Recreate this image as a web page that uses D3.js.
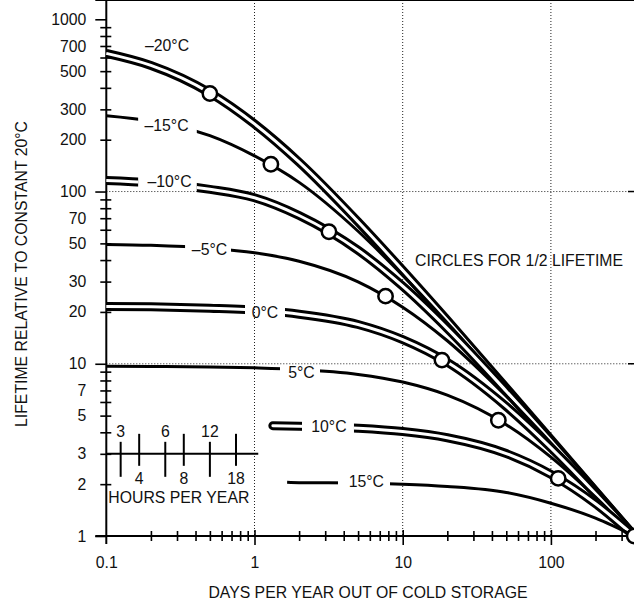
<!DOCTYPE html>
<html>
<head>
<meta charset="utf-8">
<script src="https://cdn.jsdelivr.net/npm/d3@7"></script>
<style>
body { margin: 0; background: #fff; }
svg text { font-family: "Liberation Sans", Arial, Helvetica, sans-serif; font-size: 15.8px; fill: #111; }
</style>
</head>
<body>
<div id="chart"></div>
<script>
// days per year out of cold storage, sampled along the curves
var days = [0.1, 0.2, 0.5, 1, 2, 5, 10, 20, 50, 100, 200, 365];
var days10 = [1.33, 2, 5, 10, 20, 50, 100, 200, 365];
var days15 = [1.66, 2, 5, 10, 20, 50, 100, 200, 365];

// lifetime relative to constant 20°C
var lifeM20 = [634, 540, 374, 247, 148, 66.7, 34.9, 17.9, 7.24, 3.64, 1.82, 1];
var lifeM15 = [275, 256, 211, 161, 113, 58.8, 32.6, 17.3, 7.15, 3.62, 1.82, 1];
var lifeM10 = [116, 112.5, 103, 92, 72.6, 45.6, 28.2, 16.0, 6.93, 3.57, 1.81, 1];
var lifeM5  = [49.3, 48.7, 46.8, 44.1, 39.4, 29.9, 21.3, 13.6, 6.48, 3.47, 1.80, 1];
var lifeP0  = [21.5, 21.4, 21.0, 20.5, 19.4, 16.9, 13.8, 10.2, 5.65, 3.25, 1.76, 1];
var lifeP5  = [9.68, 9.65, 9.59, 9.47, 9.26, 8.67, 7.83, 6.57, 4.43, 2.87, 1.68, 1];
var lifeP10 = [4.37, 4.34, 4.22, 4.04, 3.72, 3.01, 2.28, 1.54, 1];
var lifeP15 = [2.05, 2.04, 2.03, 2.00, 1.94, 1.79, 1.55, 1.27, 1];

var temps = ["–20°C", "–15°C", "–10°C", "–5°C", "0°C", "5°C", "10°C", "15°C"];

// circles for 1/2 lifetime
var halfDays = [0.5, 1.29, 3.18, 7.66, 18.4, 44.2, 112, 365];
var halfLife = [371, 144, 58.4, 24.7, 10.5, 4.7, 2.16, 1];

var yLabels = [1, 2, 3, 5, 7, 10, 20, 30, 50, 70, 100, 200, 300, 500, 700, 1000];
var xLabels = [0.1, 1, 10, 100];
var hoursTop = [3, 6, 12];
var hoursBottom = [4, 8, 18];

var curves = [
  {name: temps[0], days: days, life: lifeM20, cased: true},
  {name: temps[1], days: days, life: lifeM15, cased: false},
  {name: temps[2], days: days, life: lifeM10, cased: true},
  {name: temps[3], days: days, life: lifeM5, cased: false},
  {name: temps[4], days: days, life: lifeP0, cased: true},
  {name: temps[5], days: days, life: lifeP5, cased: false},
  {name: temps[6], days: days10, life: lifeP10, cased: true, round: true},
  {name: temps[7], days: days15, life: lifeP15, cased: false}
];

// label placement (day, value) and the gap cut in the line for it
var labelPos = [
  {d: 0.257, v: 707},
  {d: 0.255, v: 243, gap: [0.164, 0.408]},
  {d: 0.267, v: 113.8, gap: [0.164, 0.408]},
  {d: 0.497, v: 46.1, gap: [0.34, 0.694]},
  {d: 1.177, v: 19.87, gap: [0.863, 1.606]},
  {d: 2.076, v: 8.91, gap: [1.486, 2.767]},
  {d: 3.18, v: 4.31, gap: [2.092, 4.69]},
  {d: 5.68, v: 2.066, gap: [3.66, 8.21]}
];

var width = 634, height = 600;
var svg = d3.select("#chart").append("svg")
  .attr("width", width)
  .attr("height", height);

var x = d3.scaleLog().domain([0.1, 100]).range([106.3, 550.9]);
var y = d3.scaleLog().domain([1, 1000]).range([536, 19.3]);

var left = x(0.1), bottom = y(1), top = y(1000);

// dotted grid
svg.selectAll("line.vgrid")
  .data([1, 10, 100])
  .enter()
  .append("line")
  .attr("x1", d => x(d)).attr("x2", d => x(d))
  .attr("y1", top).attr("y2", bottom)
  .attr("stroke", "#222").attr("stroke-width", 1)
  .attr("stroke-dasharray", "1,2");

svg.selectAll("line.hgrid")
  .data([10, 100])
  .enter()
  .append("line")
  .attr("x1", left).attr("x2", width)
  .attr("y1", d => y(d)).attr("y2", d => y(d))
  .attr("stroke", "#222").attr("stroke-width", 1)
  .attr("stroke-dasharray", "1,2");

// right-hand ticks at the grid lines
svg.selectAll("line.rtick")
  .data([10, 100])
  .enter()
  .append("line")
  .attr("x1", width - 6).attr("x2", width)
  .attr("y1", d => y(d)).attr("y2", d => y(d))
  .attr("stroke", "#000").attr("stroke-width", 1.5);

// minor tick values
var yMinor = [];
[1, 10, 100].forEach(function (p) {
  for (var k = 2; k <= 9; k++) yMinor.push(k * p);
});
var xMinor = [];
[0.1, 1, 10, 100].forEach(function (p) {
  for (var k = 2; k <= 9; k++) if (k * p < 365) xMinor.push(k * p);
});

function styleAxis(g) {
  g.select(".domain").remove();
  g.selectAll(".tick line").attr("stroke", "#000").attr("stroke-width", 1.6);
  g.selectAll("text").attr("fill", "#111").style("font-size", "15.8px")
    .style("font-family", '"Liberation Sans", Arial, sans-serif');
}

svg.append("g")
  .attr("transform", `translate(${left},0)`)
  .call(d3.axisLeft(y).tickValues([1, 10, 100, 1000]).tickSize(11).tickFormat(""))
  .call(styleAxis);

svg.append("g")
  .attr("transform", `translate(${left + 5},0)`)
  .call(d3.axisLeft(y).tickValues(yMinor).tickSize(11).tickFormat(""))
  .call(styleAxis);

svg.append("g")
  .attr("transform", `translate(${left},0)`)
  .call(d3.axisLeft(y).tickValues(yLabels).tickSize(0).tickPadding(20).tickFormat(d3.format("d")))
  .call(styleAxis);

svg.append("g")
  .attr("transform", `translate(0,${bottom - 6})`)
  .call(d3.axisBottom(x).tickValues([1, 10, 100]).tickSize(15).tickFormat(""))
  .call(styleAxis);

svg.append("g")
  .attr("transform", `translate(0,${bottom - 5})`)
  .call(d3.axisBottom(x).tickValues(xMinor).tickSize(10).tickFormat(""))
  .call(styleAxis);

svg.append("g")
  .attr("transform", `translate(0,${bottom})`)
  .call(d3.axisBottom(x).tickValues(xLabels).tickSize(0).tickPadding(21).tickFormat(d => d < 1 ? "0.1" : d3.format("d")(d)))
  .call(styleAxis);

// frame lines
svg.append("line")
  .attr("x1", left).attr("x2", left).attr("y1", top).attr("y2", bottom + 8)
  .attr("stroke", "#000").attr("stroke-width", 2);
svg.append("line")
  .attr("x1", left - 11).attr("x2", width).attr("y1", bottom).attr("y2", bottom)
  .attr("stroke", "#000").attr("stroke-width", 2);
svg.append("line")
  .attr("x1", left - 11).attr("x2", width).attr("y1", top).attr("y2", top)
  .attr("stroke", "#000").attr("stroke-width", 2);

// hours per year inset scale, drawn on the day axis (hours / 24)
svg.append("line")
  .attr("x1", left).attr("x2", x(1.06))
  .attr("y1", y(3)).attr("y2", y(3))
  .attr("stroke", "#000").attr("stroke-width", 2);

svg.selectAll("line.htop")
  .data(hoursTop)
  .enter()
  .append("line")
  .attr("x1", d => x(d / 24)).attr("x2", d => x(d / 24))
  .attr("y1", y(3) - 12).attr("y2", y(3) + 23)
  .attr("stroke", "#000").attr("stroke-width", 2);

svg.selectAll("line.hbot")
  .data(hoursBottom)
  .enter()
  .append("line")
  .attr("x1", d => x(d / 24)).attr("x2", d => x(d / 24))
  .attr("y1", y(3) - 20).attr("y2", y(3) + 12)
  .attr("stroke", "#000").attr("stroke-width", 2);

svg.selectAll("text.htop")
  .data(hoursTop)
  .enter()
  .append("text")
  .attr("x", d => x(d / 24)).attr("y", y(3) - 22)
  .attr("dy", "0.35em")
  .style("text-anchor", "middle")
  .text(d => d);

svg.selectAll("text.hbot")
  .data(hoursBottom)
  .enter()
  .append("text")
  .attr("x", d => x(d / 24)).attr("y", y(3) + 25)
  .attr("dy", "0.35em")
  .style("text-anchor", "middle")
  .text(d => d);

svg.append("text")
  .attr("x", left + 2).attr("y", y(3) + 44)
  .attr("dy", "0.35em")
  .text("HOURS PER YEAR");

// curves
var defs = svg.append("defs");
var line = d3.line()
  .x(d => x(d[0]))
  .y(d => y(d[1]))
  .curve(d3.curveMonotoneX);

curves.forEach(function (c, i) {
  var pts = c.days.map((d, j) => [d, c.life[j]]);
  var g = svg.append("g");
  var lp = labelPos[i];
  if (lp.gap) {
    var cp = defs.append("clipPath").attr("id", "gap" + i);
    cp.append("rect").attr("x", 0).attr("y", 0)
      .attr("width", x(lp.gap[0])).attr("height", height);
    cp.append("rect").attr("x", x(lp.gap[1])).attr("y", 0)
      .attr("width", width + 20 - x(lp.gap[1])).attr("height", height);
    g.attr("clip-path", `url(#gap${i})`);
  }
  var cap = c.round ? "round" : "butt";
  if (c.cased) {
    g.append("path").attr("d", line(pts))
      .attr("fill", "none").attr("stroke", "#000")
      .attr("stroke-width", 9).attr("stroke-linecap", cap);
    g.append("path").attr("d", line(pts))
      .attr("fill", "none").attr("stroke", "#fff")
      .attr("stroke-width", 3).attr("stroke-linecap", cap);
  } else {
    g.append("path").attr("d", line(pts))
      .attr("fill", "none").attr("stroke", "#000")
      .attr("stroke-width", 3).attr("stroke-linecap", cap);
  }
});

// curve labels
svg.selectAll("text.tlabel")
  .data(curves)
  .enter()
  .append("text")
  .attr("class", "tlabel")
  .attr("x", (d, i) => x(labelPos[i].d))
  .attr("y", (d, i) => y(labelPos[i].v))
  .attr("dy", "0.35em")
  .style("text-anchor", "middle")
  .text(d => d.name);

// half lifetime circles
svg.selectAll("circle.half")
  .data(halfDays)
  .enter()
  .append("circle")
  .attr("class", "half")
  .attr("cx", d => x(d))
  .attr("cy", (d, i) => y(halfLife[i]))
  .attr("r", 7.2)
  .attr("fill", "#fff")
  .attr("stroke", "#000")
  .attr("stroke-width", 2.5);

svg.append("text")
  .attr("x", 415).attr("y", y(40))
  .attr("dy", "0.35em")
  .text("CIRCLES FOR 1/2 LIFETIME");

// axis titles
svg.append("text")
  .attr("x", 368).attr("y", 592)
  .attr("dy", "0.35em")
  .style("text-anchor", "middle")
  .text("DAYS PER YEAR OUT OF COLD STORAGE");

svg.append("text")
  .attr("transform", "translate(21,274) rotate(-90)")
  .attr("dy", "0.35em")
  .style("text-anchor", "middle")
  .text("LIFETIME RELATIVE TO CONSTANT 20°C");
</script>
</body>
</html>
